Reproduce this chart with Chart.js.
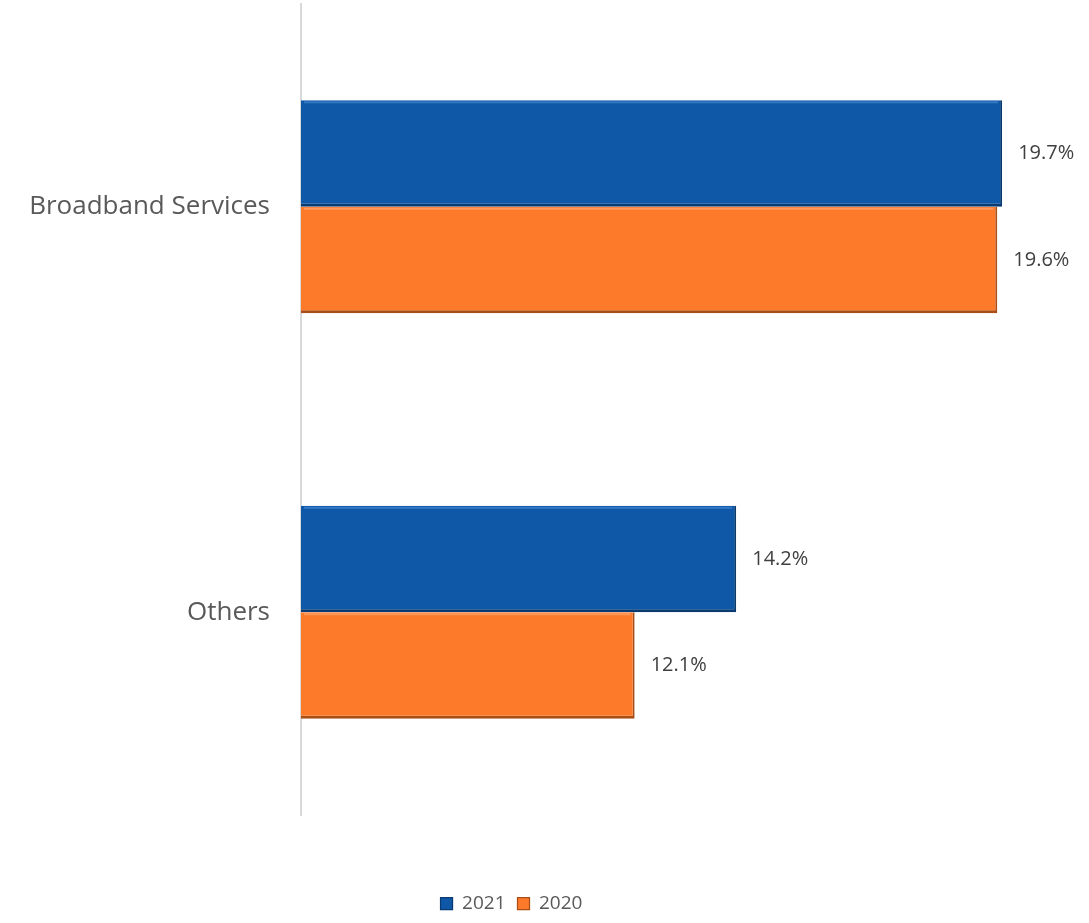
<!DOCTYPE html>
<html>
<head>
<meta charset="utf-8">
<script src="https://cdn.jsdelivr.net/npm/chart.js@4.4.0/dist/chart.umd.min.js"></script>
<style>
  html, body { margin: 0; padding: 0; background: #fff; }
  #wrap { width: 1089px; height: 923px; }
</style>
</head>
<body>
<div id="wrap"><canvas id="growthChart"></canvas></div>
<script>
// Chart data
const categories = ['Broadband Services', 'Others'];
const seriesNames = ['2021', '2020'];
const values2021 = [19.7, 14.2];
const values2020 = [19.6, 12.1];

const FONT = '"Open Sans", Lato, sans-serif';
const highlights = ['#3B7FC8', '#FFA066'];

// Value label right of each bar, plus a light strip on top of the bar (bevel look)
const valueLabels = {
    id: 'valueLabels',
    afterDatasetsDraw(chart) {
        const ctx = chart.ctx;
        const left = chart.chartArea.left;
        ctx.save();
        chart.data.datasets.forEach(function(ds, i) {
            chart.getDatasetMeta(i).data.forEach(function(bar, j) {
                const top = bar.y - bar.height / 2;
                const start = Math.max(bar.base, left);
                ctx.fillStyle = highlights[i];
                ctx.globalAlpha = 0.8;
                ctx.fillRect(start + 3, top + 1, bar.x - start - 7, 2);
                ctx.globalAlpha = 1;
                ctx.font = '20px ' + FONT;
                ctx.fillStyle = '#404040';
                ctx.textBaseline = 'middle';
                ctx.fillText(ds.data[j].toFixed(1) + '%', bar.x + 16, bar.y);
            });
        });
        ctx.restore();
    }
};

// Legend in the original sits a little left of the page centre
const legendShift = {
    id: 'legendShift',
    afterLayout(chart) {
        chart.legend.left -= 42;
    }
};

const ctx = document.getElementById('growthChart').getContext('2d');
const growthChart = new Chart(ctx, {
    type: 'bar',
    data: {
        labels: categories,
        datasets: [{
            label: seriesNames[0],
            data: values2021,
            backgroundColor: '#0F58A7',
            borderColor: '#0A3B70',
            borderWidth: { top: 0, left: 0, right: 2, bottom: 3 },
            borderSkipped: false
        }, {
            label: seriesNames[1],
            data: values2020,
            backgroundColor: '#FD7A2A',
            borderColor: '#A94E17',
            borderWidth: { top: 0, left: 0, right: 2, bottom: 3 },
            borderSkipped: false
        }]
    },
    options: {
        indexAxis: 'y',
        responsive: true,
        maintainAspectRatio: false,
        animation: false,
        layout: { padding: { top: 4, right: 24, bottom: 0, left: 0 } },
        datasets: { bar: { barPercentage: 1, categoryPercentage: 0.525 } },
        scales: {
            x: {
                min: 5.2,
                max: 21,
                grid: { display: false },
                border: { display: false },
                ticks: { display: false },
                // empty title used only to leave room above the legend
                title: { display: true, text: ' ', color: 'rgba(0,0,0,0)', font: { size: 10 }, padding: { top: 47, bottom: 0 } }
            },
            y: {
                // invisible tick marks give the gap between labels and axis line
                grid: { display: true, drawOnChartArea: false, color: 'rgba(0,0,0,0)', tickLength: 31 },
                border: { display: true, color: '#D9D9D9', width: 2 },
                ticks: { color: '#595959', font: { family: FONT, size: 26, lineHeight: 0.3 }, padding: 0 },
                afterFit(scale) { scale.width = 301; }
            }
        },
        plugins: {
            legend: {
                position: 'bottom',
                labels: {
                    color: '#595959',
                    font: { family: FONT, size: 19 },
                    boxWidth: 12,
                    boxHeight: 12,
                    padding: 12
                }
            },
            tooltip: { enabled: false }
        }
    },
    plugins: [valueLabels, legendShift]
});
</script>
</body>
</html>
